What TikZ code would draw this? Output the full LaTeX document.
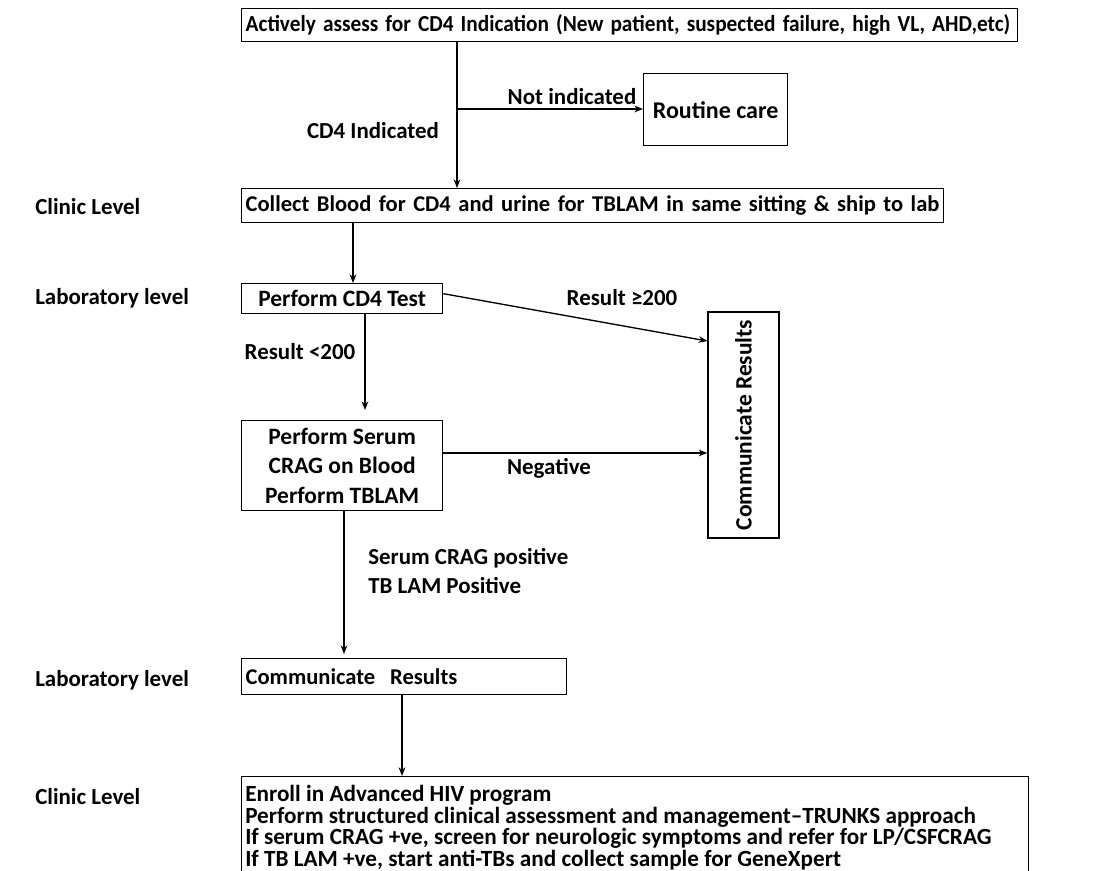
\documentclass[tikz,border=0pt]{standalone}
\usepackage{fontspec}
\setmainfont{Carlito}
\usetikzlibrary{arrows.meta}
\newcommand{\fs}[2]{\fontsize{#1}{#2}\selectfont\bfseries}
\begin{document}
\begin{tikzpicture}[x=0.75pt,y=-0.75pt,
  every node/.style={font=\fs{17.2}{20}},
  box/.style={draw, line width=1pt, inner sep=0pt, anchor=north west},
  lbl/.style={inner sep=0pt},
  conn/.style={line width=1pt},
  arr/.style={conn, -{Stealth[length=6.5pt,width=5pt]}}]
\useasboundingbox (0,0) rectangle (1119,870);
\clip (0,0) rectangle (1119,870);

% boxes
\node[box, minimum width=582pt, minimum height=24.75pt, text width=576pt, inner xsep=3pt, align=left] (assess) at (241,8)
  {\scalebox{0.93}[1]{Actively assess for CD4 Indication (New patient, suspected failure, high VL, AHD,etc)}};
\node[box, minimum width=108pt, minimum height=54pt, align=center, font=\fs{18}{21}] (routine) at (643,73) {Routine care};
\node[box, minimum width=526.5pt, minimum height=25.5pt, text width=520.5pt, inner xsep=3pt, align=left, font=\fs{16.9}{20}] (collect) at (241,188)
  {Collect Blood for CD4 and urine for TBLAM in same sitting \& ship to lab};
\node[box, minimum width=150.75pt, minimum height=22.5pt, align=center, font=\fs{17.6}{20}] (cd4) at (241,283) {Perform CD4 Test};
\node[draw, line width=1pt, inner sep=0pt, rotate=90, minimum width=169.5pt, minimum height=53.25pt, font=\fs{17.6}{20}] (comm1) at (743.5,425) {Communicate Results};
\node[box, minimum width=150.75pt, minimum height=67.5pt, align=center,
  font=\fs{17.6}{22.2}] (serum) at (241,420) {Perform Serum\\CRAG on Blood\\Perform TBLAM};
\node[box, minimum width=243.75pt, minimum height=27pt, text width=237.75pt, inner xsep=3pt, align=left, font=\fs{16.9}{20}] (comm2) at (241,658)
  {Communicate\ \ Results};
\node[box, minimum width=590.25pt, minimum height=90pt] (enroll) at (241,776) {};
\node[anchor=north west, inner sep=0pt, align=left,
  font=\fs{17.4}{16.2}] (enrolltext) at (245,785)
  {Enroll in Advanced HIV program\\
   Perform structured clinical assessment and management--TRUNKS approach\\
   If serum CRAG +ve, screen for neurologic symptoms and refer for LP/CSFCRAG\\
   If TB LAM +ve, start anti-TBs and collect sample for GeneXpert};

% level labels
\node[lbl, anchor=west] (lv1) at (35,207) {Clinic Level};
\node[lbl, anchor=west] (lv2) at (35,298) {Laboratory level};
\node[lbl, anchor=west] (lv3) at (35,680) {Laboratory level};
\node[lbl, anchor=west] (lv4) at (35,797) {Clinic Level};

% coordinates
\coordinate (j1) at (457,109);
\coordinate (xB) at (353,0);
\coordinate (xC) at (365,0);
\coordinate (xD) at (344,0);
\coordinate (xE) at (402,0);
\coordinate (yR) at (0,341);
\coordinate (yN) at (0,453);

% connectors
\draw[conn] (assess.south -| j1) -- (j1);
\draw[arr] (j1) -- (collect.north -| j1);
\draw[arr] (j1) -- (routine.west |- j1);
\draw[arr] (collect.south -| xB) -- (cd4.north -| xB);
\draw[arr] ([yshift=3.75pt]cd4.east) -- (comm1.north |- yR);
\draw[arr, shorten >=7.5pt] (cd4.south -| xC) -- (serum.north -| xC);
\draw[arr] (serum.east |- yN) -- (comm1.north |- yN);
\draw[arr, shorten >=3pt] (serum.south -| xD) -- (comm2.north -| xD);
\draw[arr] (comm2.south -| xE) -- (enroll.north -| xE);

% connector labels
\node[lbl] (lnot) at (572,97) {Not indicated};
\node[lbl] (lind) at (373,131) {CD4 Indicated};
\node[lbl] (lge) at (622,298) {Result ≥200};
\node[lbl] (llt) at (300,352) {Result <200};
\node[lbl] (lneg) at (549,468) {Negative};
\node[lbl, anchor=west, align=left, font=\fs{17.2}{22}] (lpos) at (368,571) {Serum CRAG positive\\TB LAM Positive};
\end{tikzpicture}
\end{document}
